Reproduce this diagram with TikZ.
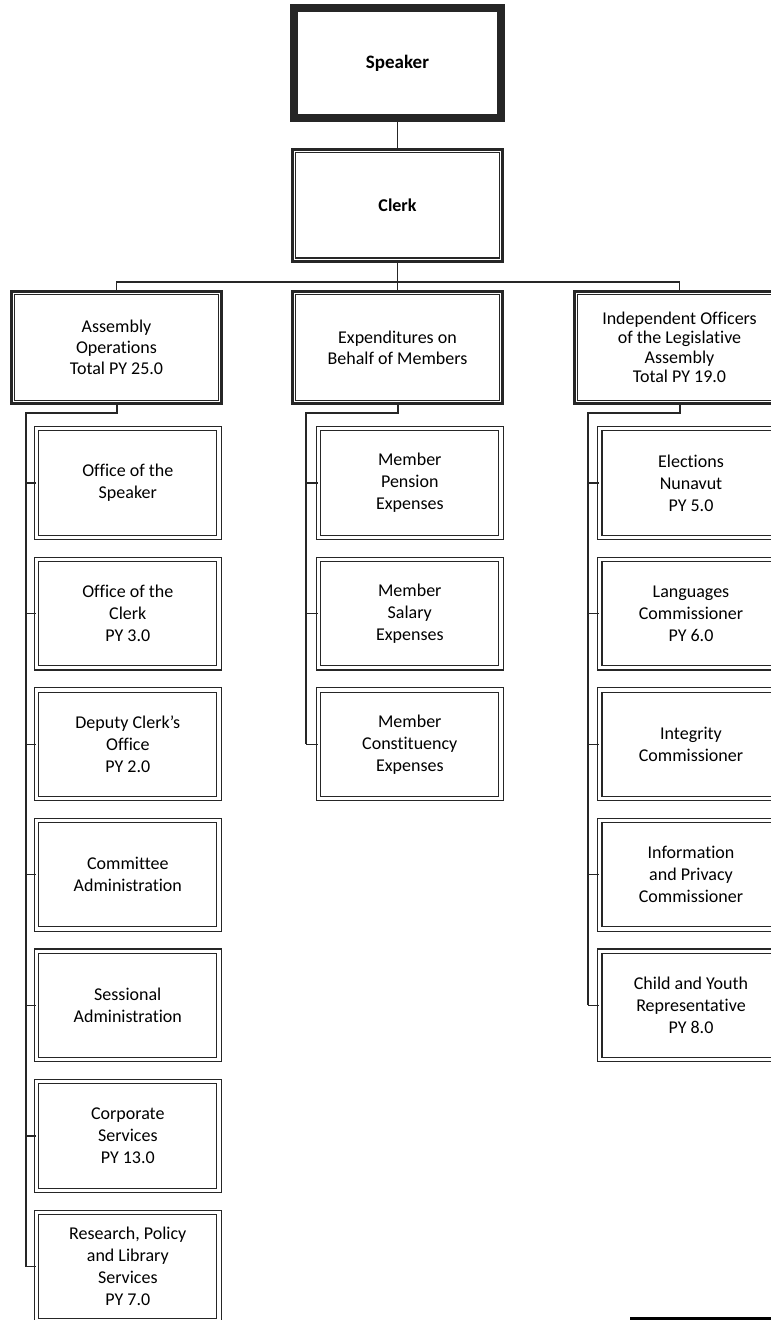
\documentclass[tikz,border=0pt]{standalone}
\usepackage{fontspec}
\setmainfont{Carlito}[Ligatures=NoCommon]
\definecolor{ink}{HTML}{262626}
\tikzset{
  ln/.style={draw=ink, line width=1.3pt},
  feed/.style={draw=ink, line width=2pt},
  topbox/.style={draw=ink, line width=8pt, minimum width=207pt, minimum height=110pt,
    inner sep=0pt, font=\fontsize{19}{22}\selectfont\bfseries},
  levelbox/.style={draw=ink, line width=3pt, minimum width=210pt, minimum height=112pt,
    inner sep=0pt, align=center, font=\fontsize{18}{20.8}\selectfont},
  innerline/.style={draw=ink, line width=1.2pt},
  childbox/.style={draw=ink, double, line width=1.1pt, double distance=3.2pt,
    minimum width=182.4pt, minimum height=108.5pt, inner sep=0pt, align=center,
    font=\fontsize{18}{22}\selectfont},
}
\begin{document}
\begin{tikzpicture}[x=1pt,y=-1pt]
\useasboundingbox (0,0) rectangle (771,1320);
\clip (0,0) rectangle (771,1320);

% top of the hierarchy
\node[topbox] (speaker) at (397.5,63) {Speaker};
\node[levelbox, font=\fontsize{18}{22}\selectfont\bfseries] (clerk) at (397.5,205) {Clerk};

% divisions
\node[levelbox] (ops) at (116.5,347.5) {Assembly\\Operations\\Total PY 25.0};
\node[levelbox] (exp) at (397.5,347.5) {Expenditures on\\Behalf of Members};
\node[levelbox, font=\fontsize{18}{19.5}\selectfont] (ind) at (679.5,347.5)
  {Independent Officers\\of the Legislative\\Assembly\\Total PY 19.0};

% inner rule of the double-framed boxes
\foreach \n in {clerk,ops,exp,ind}
  \draw[innerline] ([xshift=4.6pt,yshift=-4.6pt]\n.north west)
    rectangle ([xshift=-4.6pt,yshift=4.6pt]\n.south east);

% Assembly Operations units
\node[childbox] (o1) at (127.8,483.0) {Office of the\\Speaker};
\node[childbox] (o2) at (127.8,613.6) {Office of the\\Clerk\\PY 3.0};
\node[childbox] (o3) at (127.8,744.2) {Deputy Clerk’s\\Office\\PY 2.0};
\node[childbox] (o4) at (127.8,874.8) {Committee\\Administration};
\node[childbox] (o5) at (127.8,1005.4) {Sessional\\Administration};
\node[childbox] (o6) at (127.8,1136.0) {Corporate\\Services\\PY 13.0};
\node[childbox] (o7) at (127.8,1266.6) {Research, Policy\\and Library\\Services\\PY 7.0};

% Expenditures on Behalf of Members units
\node[childbox] (e1) at (409.8,483.0) {Member\\Pension\\Expenses};
\node[childbox] (e2) at (409.8,613.6) {Member\\Salary\\Expenses};
\node[childbox] (e3) at (409.8,744.2) {Member\\Constituency\\Expenses};

% Independent Officers units
\node[childbox] (i1) at (691,483.0) {Elections\\Nunavut\\PY 5.0};
\node[childbox] (i2) at (691,613.6) {Languages\\Commissioner\\PY 6.0};
\node[childbox] (i3) at (691,744.2) {Integrity\\Commissioner};
\node[childbox] (i4) at (691,874.8) {Information\\and Privacy\\Commissioner};
\node[childbox] (i5) at (691,1005.4) {Child and Youth\\Representative\\PY 8.0};

% reporting lines
\coordinate (bus) at (397.5,282);
\draw[ln] (speaker.south) -- (clerk.north);
\draw[ln] (clerk.south) -- (clerk.south |- bus);
\draw[ln] (ops.north) -- (ops.north |- bus) -- (ind.north |- bus) -- (ind.north);
\draw[ln] (exp.north) -- (exp.north |- bus);

\coordinate (opsrail) at (26,413);
\coordinate (exprail) at (306,413);
\coordinate (indrail) at (588,413);
\draw[feed] (ops.south) -- (ops.south |- opsrail) -- (opsrail) -- (opsrail |- o7.west);
\draw[feed] (exp.south) -- (exp.south |- exprail) -- (exprail) -- (exprail |- e3.west);
\draw[feed] (ind.south) -- (ind.south |- indrail) -- (indrail) -- (indrail |- i5.west);
\foreach \n in {o1,o2,o3,o4,o5,o6,o7}
  \draw[ln] (opsrail |- \n.west) -- (\n.west);
\foreach \n in {e1,e2,e3}
  \draw[ln] (exprail |- \n.west) -- (\n.west);
\foreach \n in {i1,i2,i3,i4,i5}
  \draw[ln] (indrail |- \n.west) -- (\n.west);

% footer rule
\draw[draw=black, line width=2.5pt] (630,1318.7) -- (771,1318.7);
\end{tikzpicture}
\end{document}
